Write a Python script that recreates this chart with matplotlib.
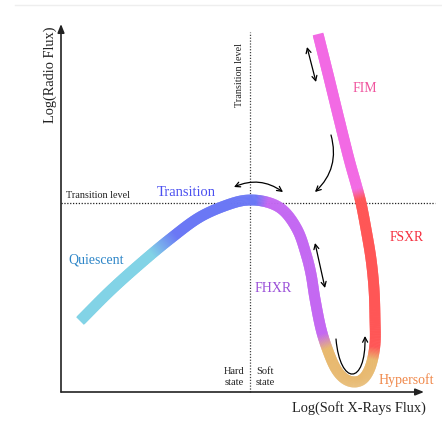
import numpy as np
import matplotlib
matplotlib.use("Agg")
import matplotlib.pyplot as plt
from matplotlib.collections import LineCollection
from matplotlib.colors import to_rgb
from matplotlib.patches import FancyArrowPatch
from matplotlib.path import Path

plt.rcParams["font.family"] = ["Liberation Serif", "DejaVu Serif"]

# ── schematic track (arbitrary log units, origin at the axes corner) ──
track_x = [19, 49, 79, 109, 139, 169, 189, 209, 224, 237, 245, 250, 254, 260,
           267, 275, 284, 294, 303, 310, 314, 314, 313, 310, 305, 300, 295,
           288, 278, 267, 257]
track_y = [71, 101, 128, 153, 175, 188, 192, 189, 180, 161, 138, 118, 93, 63,
           41, 23, 13, 10, 14, 27, 48, 73, 103, 133, 163, 189, 208, 233, 273,
           318, 358]

# colour stops along the track (position = point index)
stop_pos = [0, 2.4, 3.2, 6.3, 6.9, 13.2, 13.9, 19.3, 19.9, 25.2, 25.8, 30]
stop_col = ["#82d3e6", "#82d3e6", "#6b78f5", "#6b78f5", "#c468f2", "#c468f2",
            "#e8b96e", "#e8b96e", "#ff5656", "#ff5656", "#f26ae4", "#f26ae4"]

transition_level = 189
transition_x = 189

INK = "#222222"


def smooth_track(xs, ys, n=40):
    P = np.column_stack([xs, ys]).astype(float)
    P = np.vstack([2 * P[0] - P[1], P, 2 * P[-1] - P[-2]])
    pts, tt = [], []
    for i in range(1, len(P) - 2):
        p0, p1, p2, p3 = P[i - 1], P[i], P[i + 1], P[i + 2]
        for s in np.linspace(0, 1, n, endpoint=False):
            pts.append(0.5 * (2 * p1 + (-p0 + p2) * s
                              + (2 * p0 - 5 * p1 + 4 * p2 - p3) * s ** 2
                              + (-p0 + 3 * p1 - 3 * p2 + p3) * s ** 3))
            tt.append(i - 1 + s)
    pts.append(P[-2])
    tt.append(len(xs) - 1)
    return np.array(pts), np.array(tt)


fig = plt.figure(figsize=(4.42, 4.39), dpi=100)
ax = fig.add_axes([0, 0, 1, 1])
ax.set_xlim(-61, 381)
ax.set_ylim(-46, 393)
ax.axis("off")

# faint page rule at the very top
fig.add_artist(plt.Line2D([15 / 442, 1], [1 - 6 / 439] * 2, color="#eeeeee", lw=1))

# axes with arrow heads
arr = dict(arrowstyle="-|>,head_length=0.5,head_width=0.2", color=INK, lw=1.2,
           shrinkA=0, shrinkB=0)
ax.annotate("", xy=(0, 368), xytext=(0, 0), arrowprops=arr)
ax.annotate("", xy=(363, 0), xytext=(0, 0), arrowprops=arr)

# transition levels
ax.plot([0, 374], [transition_level] * 2, color=INK, lw=0.9, ls=(0, (1, 1.3)))
ax.plot([transition_x] * 2, [0, 360], color="#444444", lw=0.9, ls=(0, (1, 1.3)))

# coloured track
pts, tt = smooth_track(track_x, track_y)
rgb = np.array([to_rgb(c) for c in stop_col])
cols = np.column_stack([np.interp(tt, stop_pos, rgb[:, k]) for k in range(3)])
segs = [[pts[k], pts[k + 2]] for k in range(len(pts) - 2)]
lc = LineCollection(segs, colors=cols[1:-1], linewidths=7.8, capstyle="butt")
ax.add_collection(lc)

# arrows
dbl = dict(arrowstyle="<->,head_length=0.35,head_width=0.18", color="black",
           lw=0.9, shrinkA=0, shrinkB=0)
ax.annotate("", xy=(246, 345), xytext=(255, 310), arrowprops=dbl)
ax.annotate("", xy=(254, 149), xytext=(264, 104), arrowprops=dbl)
ax.annotate("", xy=(173, 205), xytext=(222, 200),
            arrowprops=dict(dbl, connectionstyle="arc3,rad=0.28"))
ax.annotate("", xy=(254, 200), xytext=(270, 257),
            arrowprops=dict(arrowstyle="->,head_length=0.35,head_width=0.18",
                            color="black", lw=0.9, shrinkA=0, shrinkB=0,
                            connectionstyle="arc3,rad=-0.3"))
u_path = Path([(275, 53), (279, 6), (305, 6), (304, 56)],
              [Path.MOVETO, Path.CURVE4, Path.CURVE4, Path.CURVE4])
ax.add_patch(FancyArrowPatch(path=u_path, arrowstyle="->,head_length=3.5,head_width=1.8",
                             color="black", lw=0.9))

# labels
ax.text(5, 198, "Transition level", fontsize=7.3, color=INK, ha="left", va="center")
ax.text(179, 318, "Transition level", fontsize=7.3, color=INK, rotation=90,
        ha="center", va="center")
ax.text(125, 200, "Transition", fontsize=10.5, color="#4a4ff0", ha="center", va="center")
ax.text(7, 133, "Quiescent", fontsize=10, color="#2e86c8", ha="left", va="center")
ax.text(212, 104, "FHXR", fontsize=10, color="#9a4fd8", ha="center", va="center")
ax.text(346, 155, "FSXR", fontsize=9.8, color="#f53040", ha="center", va="center")
ax.text(304, 305, "FIM", fontsize=10, color="#f0549e", ha="center", va="center")
ax.text(345, 13, "Hypersoft", fontsize=10, color="#f0884a", ha="center", va="center")
ax.text(183, 16, "Hard\nstate", fontsize=7.5, color=INK, ha="right", va="center",
        linespacing=1.4)
ax.text(195, 16, "Soft\nstate", fontsize=7.5, color=INK, ha="left", va="center",
        linespacing=1.4)
ax.text(365, -15, "Log(Soft X-Rays Flux)", fontsize=10.4, color=INK, ha="right",
        va="center")
ax.text(-11, 318, "Log(Radio Flux)", fontsize=10.4, color=INK, rotation=90,
        ha="center", va="center")

fig.savefig("out.png", dpi=100)
